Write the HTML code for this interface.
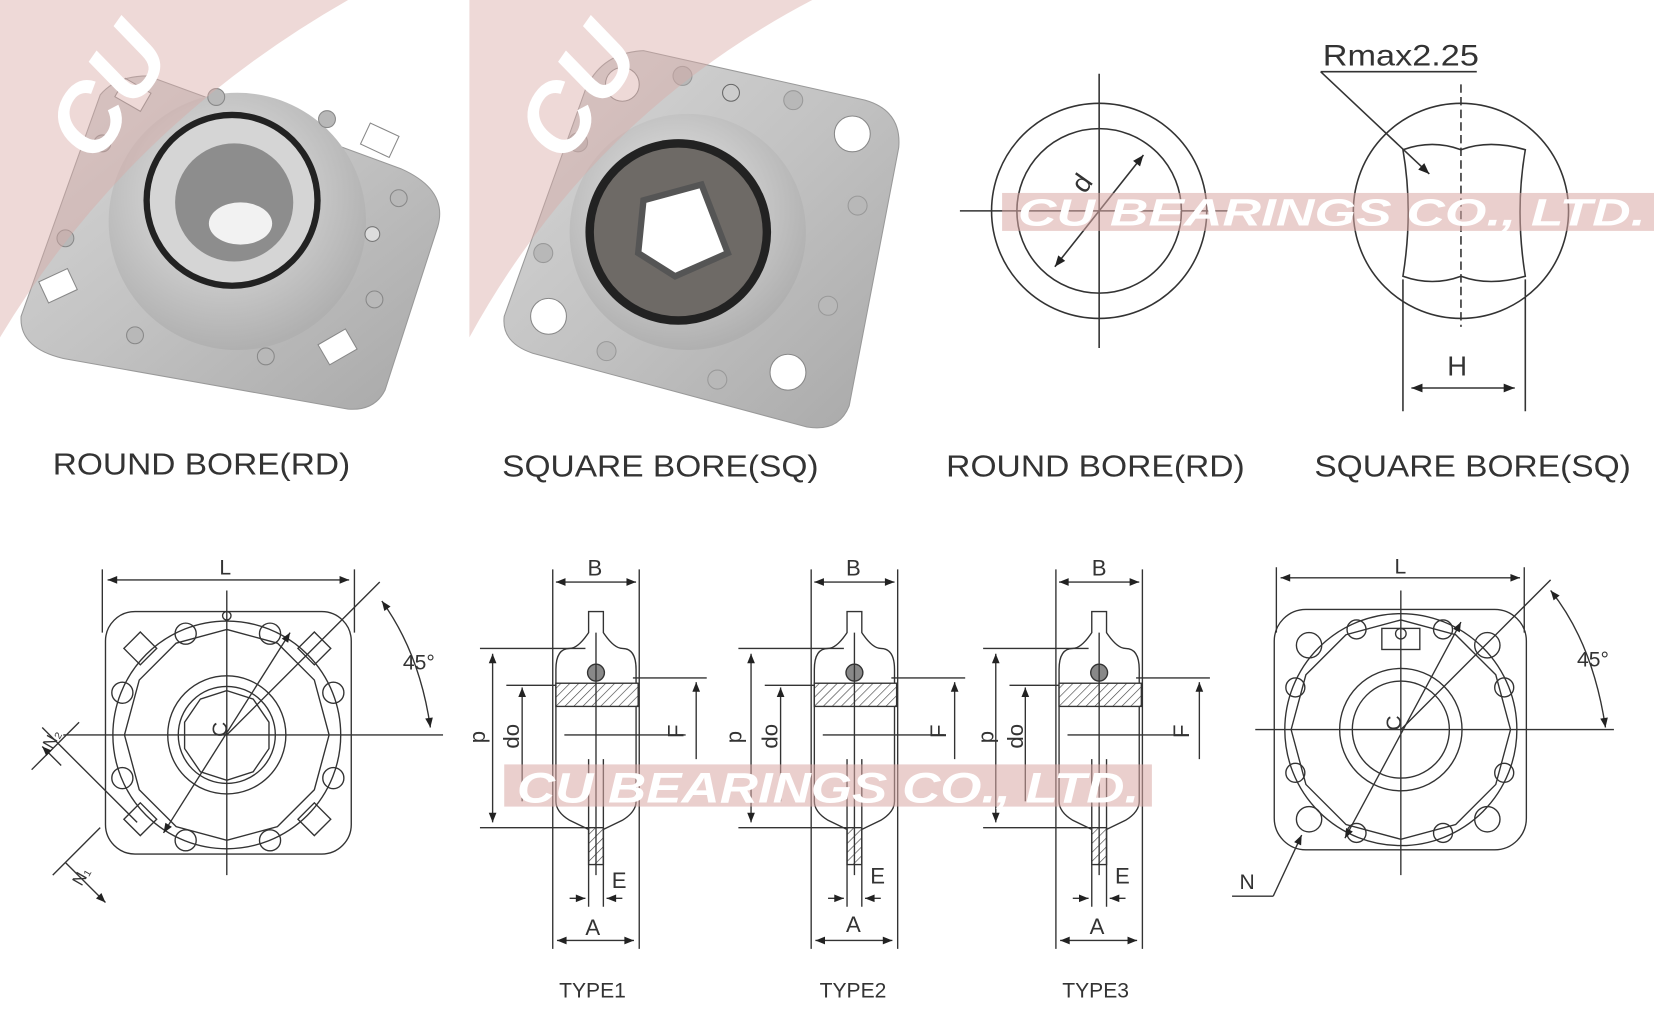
<!DOCTYPE html>
<html><head><meta charset="utf-8"><style>
html,body{margin:0;padding:0;background:#fff;}
svg{display:block;}
text{font-family:"Liberation Sans",sans-serif;}
</style></head><body>
<svg width="1654" height="1028" viewBox="0 0 1568 975" preserveAspectRatio="none" xmlns="http://www.w3.org/2000/svg">
<defs>
<linearGradient id="gm" x1="0" y1="0" x2="1" y2="1"><stop offset="0" stop-color="#d8d8d8"/><stop offset="0.5" stop-color="#c2c2c2"/><stop offset="1" stop-color="#a8a8a8"/></linearGradient>
<radialGradient id="gb" cx="0.45" cy="0.4" r="0.6"><stop offset="0" stop-color="#e8e8e8"/><stop offset="1" stop-color="#b0b0b0"/></radialGradient>
<pattern id="hatch" width="6" height="6" patternUnits="userSpaceOnUse" patternTransform="rotate(45)"><rect width="6" height="6" fill="#fff"/><line x1="0" y1="0" x2="0" y2="6" stroke="#444" stroke-width="1.2"/></pattern>
<marker id="ar" viewBox="0 0 10 10" refX="10" refY="5" markerWidth="9" markerHeight="7" orient="auto-start-reverse"><path d="M0,1 L10,5 L0,9 z" fill="#222"/></marker>
</defs>

<!-- ===== Photo 1 ===== -->
<path d="M20,300 L95,90 Q110,72 140,72 L380,160 Q425,180 415,215 L365,370 Q355,390 330,388 L60,340 Q18,330 20,300 Z" fill="url(#gm)" stroke="#999"/>
<circle cx="225" cy="210" r="122" fill="url(#gb)"/>
<circle cx="220" cy="190" r="84" fill="#222"/>
<circle cx="220" cy="190" r="78" fill="#d5d5d5"/>
<circle cx="222" cy="192" r="56" fill="#8d8d8d"/>
<ellipse cx="228" cy="212" rx="30" ry="20" fill="#f2f2f2"/>
<g fill="#fff" stroke="#888"><rect x="345" y="122" width="30" height="22" transform="rotate(25 360 133)"/><rect x="40" y="260" width="30" height="22" transform="rotate(-25 55 271)"/><rect x="305" y="318" width="30" height="22" transform="rotate(-30 320 329)"/><rect x="112" y="80" width="28" height="20" transform="rotate(30 126 90)"/></g>
<g fill="#b8b8b8" stroke="#888"><circle cx="205" cy="92" r="8"/><circle cx="310" cy="113" r="8"/><circle cx="378" cy="188" r="8"/><circle cx="355" cy="284" r="8"/><circle cx="252" cy="338" r="8"/><circle cx="128" cy="318" r="8"/><circle cx="62" cy="226" r="8"/><circle cx="97" cy="136" r="8"/></g>
<circle cx="353" cy="222" r="7" fill="#ddd" stroke="#777"/>
<!-- ===== Photo 2 ===== -->
<path d="M478,300 L555,85 Q570,50 610,48 L820,95 Q855,105 852,140 L805,385 Q795,410 765,405 L505,335 Q475,325 478,300 Z" fill="url(#gm)" stroke="#999"/>
<circle cx="652" cy="220" r="112" fill="url(#gb)"/>
<circle cx="643" cy="220" r="88" fill="#222"/>
<circle cx="643" cy="220" r="80" fill="#6e6a66"/>
<path d="M610,190 L665,175 L690,240 L640,262 L605,240 Z" fill="#fff" stroke="#555" stroke-width="6"/>
<g fill="#fff" stroke="#888"><circle cx="590" cy="80" r="16"/><circle cx="808" cy="127" r="17"/><circle cx="520" cy="300" r="17"/><circle cx="747" cy="353" r="17"/></g>
<g fill="#b8b8b8" stroke="#999"><circle cx="647" cy="72" r="9"/><circle cx="752" cy="95" r="9"/><circle cx="813" cy="195" r="9"/><circle cx="785" cy="290" r="9"/><circle cx="680" cy="360" r="9"/><circle cx="575" cy="333" r="9"/><circle cx="515" cy="240" r="9"/><circle cx="548" cy="135" r="9"/></g>
<circle cx="693" cy="88" r="8" fill="#ccc" stroke="#666"/>

<!-- pink watermark arcs -->
<path d="M0,0 L330,0 Q120,120 0,320 Z" fill="#d9aaa6" opacity="0.45"/>
<path d="M445,0 L770,0 Q560,110 445,320 Z" fill="#d9aaa6" opacity="0.45"/>
<text x="55" y="150" font-size="90" font-style="italic" font-weight="bold" fill="#fff" transform="rotate(-55 80 120)">CU</text>
<text x="500" y="150" font-size="90" font-style="italic" font-weight="bold" fill="#fff" transform="rotate(-55 525 120)">CU</text>

<!-- labels top -->
<g font-size="29" fill="#333" lengthAdjust="spacingAndGlyphs">
<text x="50" y="450" textLength="282" lengthAdjust="spacingAndGlyphs">ROUND BORE(RD)</text>
<text x="476" y="452" textLength="300" lengthAdjust="spacingAndGlyphs">SQUARE BORE(SQ)</text>
<text x="897" y="452" textLength="283" lengthAdjust="spacingAndGlyphs">ROUND BORE(RD)</text>
<text x="1246" y="452" textLength="300" lengthAdjust="spacingAndGlyphs">SQUARE BORE(SQ)</text>
</g>

<!-- ===== Round bore drawing ===== -->
<g fill="none" stroke="#333" stroke-width="1.5">
<circle cx="1042" cy="200" r="102"/>
<circle cx="1042" cy="200" r="78"/>
<line x1="1042" y1="70" x2="1042" y2="330"/>
<line x1="910" y1="200" x2="1170" y2="200"/>
<line x1="1084" y1="147" x2="1000" y2="253" marker-start="url(#ar)" marker-end="url(#ar)"/>
</g>
<text x="1022" y="188" font-size="26" fill="#333" transform="rotate(-55 1022 180)">d</text>
<!-- ===== Square bore drawing ===== -->
<g fill="none" stroke="#333" stroke-width="1.5">
<circle cx="1385" cy="200" r="102"/>
<path d="M1330,142 Q1358,132 1385,142 Q1412,132 1446,142 Q1436,200 1446,262 Q1412,272 1385,262 Q1358,272 1330,262 Q1340,200 1330,142 Z"/>
<line x1="1385" y1="80" x2="1385" y2="310" stroke-dasharray="8,4"/>
<line x1="1330" y1="265" x2="1330" y2="390"/>
<line x1="1446" y1="265" x2="1446" y2="390"/>
<line x1="1338" y1="368" x2="1436" y2="368" marker-start="url(#ar)" marker-end="url(#ar)"/>
<line x1="1252" y1="68" x2="1400" y2="68"/>
<line x1="1252" y1="68" x2="1355" y2="165" marker-end="url(#ar)"/>
</g>
<text x="1254" y="62" font-size="28" fill="#333" textLength="148" lengthAdjust="spacingAndGlyphs">Rmax2.25</text>
<text x="1372" y="356" font-size="26" fill="#333">H</text>

<!-- watermark band top -->
<rect x="950" y="183" width="618" height="36" fill="#d9a8a4" opacity="0.55"/>
<text x="965" y="214" font-size="36" font-style="italic" font-weight="bold" fill="#fff" textLength="595" lengthAdjust="spacingAndGlyphs">CU BEARINGS CO., LTD.</text>

<!-- ===== Bottom left front view ===== -->
<g fill="none" stroke="#333" stroke-width="1.3">
<rect x="100" y="580" width="233" height="230" rx="28"/>
<line x1="97" y1="540" x2="97" y2="600"/><line x1="336" y1="540" x2="336" y2="600"/>
<line x1="102" y1="550" x2="331" y2="550" marker-start="url(#ar)" marker-end="url(#ar)"/>
<circle cx="215" cy="697" r="108"/>
<polygon points="215,597 263,610 298,645 312,697 298,749 263,784 215,797 167,784 132,749 118,697 132,645 167,610"/>
<circle cx="215" cy="697" r="56"/><circle cx="215" cy="697" r="46"/>
<polygon points="215,655 240,663 255,685 255,710 240,732 215,740 190,732 175,710 175,685 190,663"/>
<line x1="215" y1="560" x2="215" y2="830"/>
<line x1="60" y1="697" x2="420" y2="697"/>
<g><circle cx="176" cy="601" r="10"/><circle cx="256" cy="601" r="10"/><circle cx="116" cy="657" r="10"/><circle cx="316" cy="657" r="10"/><circle cx="116" cy="738" r="10"/><circle cx="316" cy="738" r="10"/><circle cx="176" cy="797" r="10"/><circle cx="256" cy="797" r="10"/></g>
<g><rect x="122" y="604" width="22" height="22" transform="rotate(45 133 615)"/><rect x="287" y="604" width="22" height="22" transform="rotate(45 298 615)"/><rect x="122" y="766" width="22" height="22" transform="rotate(45 133 777)"/><rect x="287" y="766" width="22" height="22" transform="rotate(45 298 777)"/></g>
<circle cx="215" cy="584" r="4"/>
<line x1="155" y1="790" x2="275" y2="600" marker-start="url(#ar)" marker-end="url(#ar)"/>
<line x1="215" y1="697" x2="360" y2="552"/>
<path d="M362,570 Q398,620 408,690" marker-start="url(#ar)" marker-end="url(#ar)"/>
<line x1="30" y1="730" x2="75" y2="685"/><line x1="50" y1="830" x2="95" y2="785"/>
<line x1="40" y1="690" x2="130" y2="780"/>
<line x1="40" y1="708" x2="58" y2="726" marker-start="url(#ar)"/>
<line x1="62" y1="818" x2="100" y2="856" marker-end="url(#ar)"/>
</g>
<g font-size="20" fill="#333">
<text x="208" y="545">L</text>
<text x="382" y="635">45°</text>
<text x="196" y="700" transform="rotate(-90 205 690)">C</text>
<text x="40" y="705" font-size="16" transform="rotate(-60 50 700)">N₂</text>
<text x="68" y="835" font-size="16" transform="rotate(-60 78 830)">N₁</text>
</g>

<!-- ===== Types side views ===== -->
<g id="t1" fill="none" stroke="#333" stroke-width="1.3">
<line x1="524" y1="540" x2="524" y2="900"/><line x1="606" y1="540" x2="606" y2="900"/>
<line x1="527" y1="552" x2="603" y2="552" marker-start="url(#ar)" marker-end="url(#ar)"/>
<path d="M558,580 L558,600 Q548,615 540,615 Q527,615 527,635 L527,760 Q527,770 540,778 L565,790 L590,778 Q603,770 603,760 L603,635 Q603,615 590,615 Q582,615 572,600 L572,580 Z"/>
<rect x="527" y="648" width="78" height="22" fill="url(#hatch)"/>
<circle cx="565" cy="638" r="8" fill="#888"/>
<rect x="558" y="785" width="14" height="35" fill="url(#hatch)"/>
<line x1="565" y1="600" x2="565" y2="830"/>
<line x1="558" y1="720" x2="558" y2="860"/><line x1="572" y1="720" x2="572" y2="860"/>
<line x1="455" y1="615" x2="555" y2="615"/><line x1="455" y1="785" x2="560" y2="785"/>
<line x1="467" y1="620" x2="467" y2="780" marker-start="url(#ar)" marker-end="url(#ar)"/>
<line x1="480" y1="650" x2="527" y2="650"/>
<line x1="495" y1="652" x2="495" y2="760" marker-start="url(#ar)"/>
<line x1="600" y1="643" x2="670" y2="643"/>
<line x1="660" y1="647" x2="660" y2="720" marker-start="url(#ar)"/>
<line x1="535" y1="697" x2="650" y2="697"/>
<line x1="540" y1="852" x2="555" y2="852" marker-end="url(#ar)"/><line x1="590" y1="852" x2="575" y2="852" marker-end="url(#ar)"/>
<line x1="528" y1="892" x2="601" y2="892" marker-start="url(#ar)" marker-end="url(#ar)"/>
</g>
<use href="#t1" x="245" y="0"/>
<use href="#t1" x="477" y="0"/>
<g font-size="21" fill="#333">
<text x="557" y="546">B</text><text x="802" y="546">B</text><text x="1035" y="546">B</text>
<text x="580" y="842">E</text><text x="825" y="838">E</text><text x="1057" y="838">E</text>
<text x="555" y="887">A</text><text x="802" y="884">A</text><text x="1033" y="886">A</text>
<text x="530" y="946" font-size="20">TYPE1</text><text x="777" y="946" font-size="20">TYPE2</text><text x="1007" y="946" font-size="20">TYPE3</text>
<g transform="rotate(-90)">
<text x="-705" y="460">p</text><text x="-710" y="492">do</text><text x="-700" y="648">F</text>
<text x="-705" y="703">p</text><text x="-710" y="737">do</text><text x="-700" y="897">F</text>
<text x="-705" y="942">p</text><text x="-710" y="970">do</text><text x="-700" y="1127">F</text>
</g>
</g>

<!-- watermark band bottom -->
<rect x="478" y="725" width="614" height="40" fill="#d9a8a4" opacity="0.55"/>
<text x="490" y="761" font-size="40" font-style="italic" font-weight="bold" fill="#fff" textLength="590" lengthAdjust="spacingAndGlyphs">CU BEARINGS CO., LTD.</text>

<!-- ===== Bottom right front view ===== -->
<g fill="none" stroke="#333" stroke-width="1.3">
<rect x="1208" y="578" width="239" height="228" rx="30"/>
<line x1="1210" y1="538" x2="1210" y2="600"/><line x1="1445" y1="538" x2="1445" y2="600"/>
<line x1="1214" y1="548" x2="1441" y2="548" marker-start="url(#ar)" marker-end="url(#ar)"/>
<circle cx="1328" cy="692" r="110"/>
<polygon points="1328,588 1380,602 1418,640 1432,692 1418,744 1380,782 1328,796 1276,782 1238,744 1224,692 1238,640 1276,602"/>
<circle cx="1328" cy="692" r="58"/><circle cx="1328" cy="692" r="46"/>
<line x1="1328" y1="560" x2="1328" y2="830"/>
<line x1="1190" y1="692" x2="1530" y2="692"/>
<g><circle cx="1286" cy="597" r="9"/><circle cx="1368" cy="597" r="9"/><circle cx="1228" cy="652" r="9"/><circle cx="1426" cy="652" r="9"/><circle cx="1228" cy="733" r="9"/><circle cx="1426" cy="733" r="9"/><circle cx="1286" cy="790" r="9"/><circle cx="1368" cy="790" r="9"/></g>
<g><circle cx="1241" cy="612" r="12"/><circle cx="1410" cy="612" r="12"/><circle cx="1241" cy="777" r="12"/><circle cx="1410" cy="777" r="12"/></g>
<rect x="1310" y="596" width="36" height="20"/><circle cx="1328" cy="601" r="5"/>
<line x1="1275" y1="795" x2="1385" y2="590" marker-start="url(#ar)" marker-end="url(#ar)"/>
<line x1="1328" y1="692" x2="1470" y2="550"/>
<path d="M1470,560 Q1510,610 1522,690" marker-start="url(#ar)" marker-end="url(#ar)"/>
<line x1="1168" y1="850" x2="1207" y2="850"/>
<line x1="1207" y1="850" x2="1234" y2="792" marker-end="url(#ar)"/>
</g>
<g font-size="20" fill="#333">
<text x="1322" y="544">L</text><text x="1495" y="632">45°</text>
<text x="1175" y="843">N</text>
<text x="1310" y="695" transform="rotate(-90 1318 685)">C</text>
</g>
</svg>
</body></html>
